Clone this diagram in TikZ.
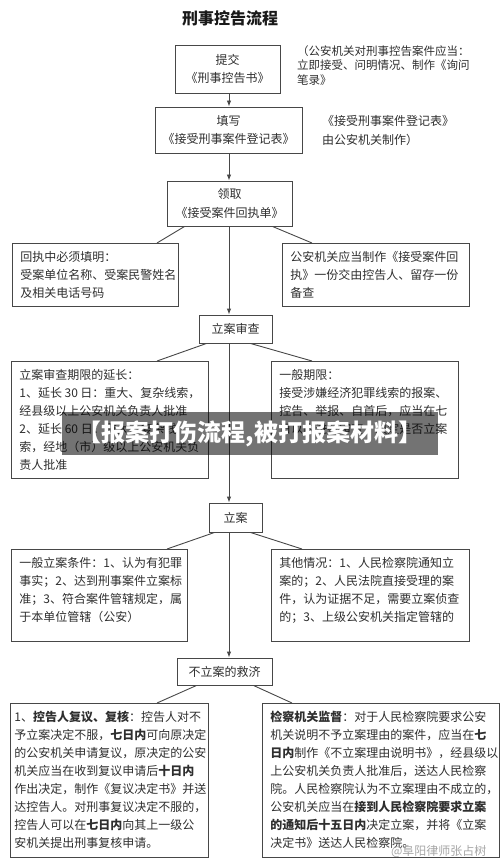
\documentclass[tikz,border=0pt]{standalone}
\usepackage{fontspec}
\setmainfont{Noto Sans CJK SC}
\usetikzlibrary{arrows.meta,calc}
\newcommand\tbox[7]{% name, x1, y1, x2, y2, hpad, text
  \pgfmathsetmacro\bw{#4-#2-2*#6}%
  \pgfmathsetmacro\bh{#5-#3-16}%
  \node[box, anchor=north west, minimum width={#4-#2}, minimum height={#5-#3}] (#1) at (#2,#3)
    {\parbox[c][\bh pt][t]{\bw pt}{\raggedright #7}};}
\begin{document}
\begin{tikzpicture}[x=1pt,y=-1pt,
  box/.style={draw=black!72, line width=0.9pt, inner sep=0pt, text=black!82,
              font=\fontsize{12}{18}\selectfont},
  cbox/.style={box, align=center},
  link/.style={draw=black!72, line width=0.9pt},
  arr/.style={link, -{Latex[length=6pt,width=4.5pt]}},
  note/.style={text=black!82, align=left, inner sep=0pt, anchor=north west}]
\useasboundingbox (0,0) rectangle (500,866);
\coordinate (trunk) at (229,0);

% title
\node[font=\fontsize{16}{18}\selectfont\bfseries, text=black!90] (title) at (230,18) {刑事控告流程};

% main column
\node[cbox, minimum width=105, minimum height=48] (b1) at (227.5,69) {提交\\《刑事控告书》};
\node[cbox, minimum width=147, minimum height=46] (b2) at (228.5,130) {填写\\《接受刑事案件登记表》};
\node[cbox, minimum width=125, minimum height=45, font=\fontsize{12}{19}\selectfont] (b3) at (229.5,203.5) {领取\\《接受案件回执单》};
\node[cbox, minimum width=73, minimum height=28] (b4) at (235.5,329) {立案审查};
\node[cbox, minimum width=53, minimum height=29] (b6) at (235.5,517.5) {立案};
\node[cbox, minimum width=95, minimum height=27] (b9) at (224.5,671.5) {不立案的救济};

% side notes
\node[note, font=\fontsize{11.5}{14.5}\selectfont] (a1) at (297,45)
  {（公安机关对刑事控告案件应当：\\立即接受、问明情况、制作《询问\\笔录》};
\node[note, font=\fontsize{12}{19}\selectfont] (a2) at (322,115)
  {《接受刑事案件登记表》\\由公安机关制作）};

% level 3 boxes
\tbox{c1}{12}{243}{178}{306}{8}{回执中必须填明：\\受案单位名称、受案民警姓名\\及相关电话号码}
\tbox{c2}{282}{243}{469}{306}{8}{公安机关应当制作《接受案件回\\执》一份交由控告人、留存一份\\备查}

% level 4 boxes
\tbox{d1}{11}{361}{208}{478}{8}{立案审查期限的延长：\\1、延长 30 日：重大、复杂线索，\\经县级以上公安机关负责人批准\\2、延长 60 日：重大、复杂线\\索，经地（市）级以上公安机关负\\责人批准}
\tbox{d2}{271}{361}{458}{478}{8}{一般期限：\\接受涉嫌经济犯罪线索的报案、\\控告、举报、自首后，应当在七\\日以内进行审查，决定是否立案}

% level 5 boxes
\tbox{e1}{11}{549}{187}{641}{8}{一般立案条件：1、认为有犯罪\\事实；2、达到刑事案件立案标\\准；3、符合案件管辖规定，属\\于本单位管辖（公安）}
\tbox{e2}{271}{549}{469}{641}{8}{其他情况：1、人民检察院通知立\\案的；2、人民法院直接受理的案\\件，认为证据不足，需要立案侦查\\的；3、上级公安机关指定管辖的}

% level 6 boxes
\tbox{f1}{10}{703}{208}{857}{4}{1、\textbf{控告人复议、复核}：控告人对不\\予立案决定不服，\textbf{七日内}可向原决定\\的公安机关申请复议，原决定的公安\\机关应当在收到复议申请后\textbf{十日内}\\作出决定，制作《复议决定书》并送\\达控告人。对刑事复议决定不服的，\\控告人可以在\textbf{七日内}向其上一级公\\安机关提出刑事复核申请。}
\tbox{f2}{262}{703}{499}{857}{8}{\textbf{检察机关监督}：对于人民检察院要求公安\\机关说明不予立案理由的案件，应当在\textbf{七}\\\textbf{日内}制作《不立案理由说明书》，经县级以\\上公安机关负责人批准后，送达人民检察\\院。人民检察院认为不立案理由不成立的，\\公安机关应当在\textbf{接到人民检察院要求立案}\\\textbf{的通知后十五日内}决定立案，并将《立案\\决定书》送达人民检察院。}

% trunk arrows
\draw[arr] (b1.south -| trunk) -- (b2.north -| trunk);
\draw[arr] (b2.south -| trunk) -- (b3.north -| trunk);
\draw[arr] (b3.south -| trunk) -- (b4.north -| trunk);
\draw[arr] (b4.south -| trunk) -- (b6.north -| trunk);
\draw[arr] (b6.south -| trunk) -- (b9.north -| trunk);

% branch lines
\draw[link] ([xshift=18pt]b3.south west) -- ([xshift=145pt]c1.north west);
\draw[link] ([xshift=-20pt]b3.south east) -- ([xshift=30pt]c2.north west);
\draw[link] ([xshift=8pt]b4.south west) -- ([xshift=146pt]d1.north west);
\draw[link] ([xshift=-22pt]b4.south east) -- ([xshift=41pt]d2.north west);
\draw[link] ([xshift=6pt]b6.south west) -- ([xshift=156pt]e1.north west);
\draw[link] ([xshift=-12pt]b6.south east) -- ([xshift=31pt]e2.north west);
\draw[link] ([xshift=20pt]b9.south west) -- ([xshift=147pt]f1.north west);
\draw[link] ([xshift=-19pt]b9.south east) -- ([xshift=30pt]f2.north west);

% overlay banner
\fill[black, opacity=0.55] (62,412) rectangle (438,455);
\node[font=\fontsize{24}{26}\selectfont\bfseries, text=white] (banner) at (250,434) {【报案打伤流程,被打报案材料】};

% watermark
\node[font=\fontsize{12}{14}\selectfont, text=black!35, anchor=east] (wm) at (490,851) {@阜阳律师张占树};
\end{tikzpicture}
\end{document}
